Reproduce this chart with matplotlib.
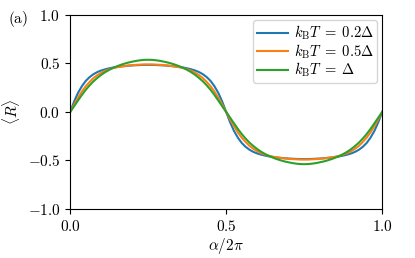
import matplotlib
matplotlib.use('Agg')
import matplotlib.pyplot as plt
from matplotlib.ticker import FuncFormatter

plt.rcParams['mathtext.fontset'] = 'cm'
plt.rcParams['font.family'] = 'serif'
plt.rcParams['font.serif'] = ['DejaVu Serif']

# phase points alpha/2pi, step 1/80
alpha = [i / 80 for i in range(81)]

# <R>
r_02 = [0.0, 0.105, 0.195, 0.265, 0.32, 0.36, 0.39, 0.412, 0.428, 0.44,
        0.45, 0.458, 0.464, 0.469, 0.473, 0.477, 0.48, 0.482, 0.484, 0.485,
        0.485, 0.485, 0.484, 0.482, 0.48, 0.477, 0.473, 0.469, 0.464, 0.458,
        0.45, 0.44, 0.428, 0.412, 0.39, 0.36, 0.32, 0.265, 0.195, 0.105,
        0.0, -0.105, -0.195, -0.265, -0.32, -0.36, -0.39, -0.412, -0.428, -0.44,
        -0.45, -0.458, -0.464, -0.469, -0.473, -0.477, -0.48, -0.482, -0.484, -0.485,
        -0.485, -0.485, -0.484, -0.482, -0.48, -0.477, -0.473, -0.469, -0.464, -0.458,
        -0.45, -0.44, -0.428, -0.412, -0.39, -0.36, -0.32, -0.265, -0.195, -0.105,
        0.0]
r_05 = [0.0, 0.075, 0.145, 0.21, 0.265, 0.31, 0.35, 0.38, 0.405, 0.425,
        0.44, 0.452, 0.461, 0.468, 0.474, 0.479, 0.483, 0.486, 0.488, 0.49,
        0.49, 0.49, 0.488, 0.486, 0.483, 0.479, 0.474, 0.468, 0.461, 0.452,
        0.44, 0.425, 0.405, 0.38, 0.35, 0.31, 0.265, 0.21, 0.145, 0.075,
        0.0, -0.075, -0.145, -0.21, -0.265, -0.31, -0.35, -0.38, -0.405, -0.425,
        -0.44, -0.452, -0.461, -0.468, -0.474, -0.479, -0.483, -0.486, -0.488, -0.49,
        -0.49, -0.49, -0.488, -0.486, -0.483, -0.479, -0.474, -0.468, -0.461, -0.452,
        -0.44, -0.425, -0.405, -0.38, -0.35, -0.31, -0.265, -0.21, -0.145, -0.075,
        0.0]
r_1 = [0.0, 0.058, 0.117, 0.175, 0.228, 0.275, 0.317, 0.352, 0.384, 0.411,
       0.434, 0.454, 0.471, 0.486, 0.499, 0.51, 0.519, 0.527, 0.533, 0.537,
       0.538, 0.537, 0.533, 0.527, 0.519, 0.51, 0.499, 0.486, 0.471, 0.454,
       0.434, 0.411, 0.384, 0.352, 0.317, 0.275, 0.228, 0.175, 0.117, 0.058,
       0.0, -0.058, -0.117, -0.175, -0.228, -0.275, -0.317, -0.352, -0.384, -0.411,
       -0.434, -0.454, -0.471, -0.486, -0.499, -0.51, -0.519, -0.527, -0.533, -0.537,
       -0.538, -0.537, -0.533, -0.527, -0.519, -0.51, -0.499, -0.486, -0.471, -0.454,
       -0.434, -0.411, -0.384, -0.352, -0.317, -0.275, -0.228, -0.175, -0.117, -0.058,
       0.0]

labels = [r'$k_\mathrm{B}T\;=\;0.2\Delta$', r'$k_\mathrm{B}T\;=\;0.5\Delta$',
          r'$k_\mathrm{B}T\;=\;\Delta$']

fig = plt.figure(figsize=(4.15, 2.58), dpi=100)
ax = fig.add_axes([0.169, 0.19, 0.752, 0.752])

for r, lab, c in zip([r_02, r_05, r_1], labels, ['tab:blue', 'tab:orange', 'tab:green']):
    ax.plot(alpha, r, color=c, lw=1.5, label=lab)

ax.set_xlim(0, 1)
ax.set_ylim(-1, 1)
ax.set_xticks([0, 0.5, 1.0])
ax.set_yticks([-1, -0.5, 0, 0.5, 1.0])
fmt = FuncFormatter(lambda v, p: r'$%.1f$' % v)
ax.xaxis.set_major_formatter(fmt)
ax.yaxis.set_major_formatter(fmt)
ax.tick_params(labelsize=11, length=3.5, width=0.8)
ax.set_xlabel(r'$\alpha/2\pi$', fontsize=11, labelpad=2)
ax.set_ylabel(r'$\langle R\rangle$', fontsize=11, labelpad=4)

ax.legend(loc='upper right', fontsize=10.5, handlelength=2.1, labelspacing=0.0,
          borderpad=0.25, handletextpad=0.4, borderaxespad=0.35)
fig.text(0.02, 0.91, r'$\mathrm{(a)}$', fontsize=11)

fig.savefig('out.png', dpi=100)
